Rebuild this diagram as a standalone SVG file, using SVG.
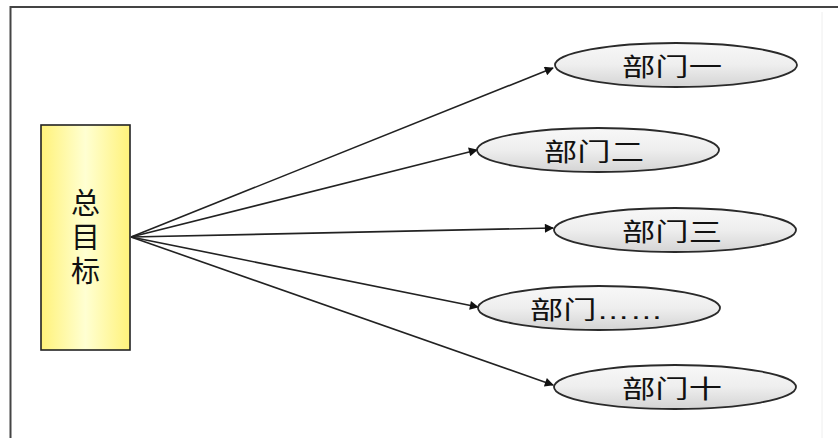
<svg xmlns="http://www.w3.org/2000/svg" width="838" height="438" viewBox="0 0 838 438">
<defs>
<linearGradient id="yg" x1="0" y1="0" x2="1" y2="0">
<stop offset="0" stop-color="#fff27a"/>
<stop offset="0.5" stop-color="#ffffd2"/>
<stop offset="1" stop-color="#fff27a"/>
</linearGradient>
<linearGradient id="eg" x1="0" y1="0" x2="0" y2="1">
<stop offset="0" stop-color="#f8f8f8"/>
<stop offset="0.5" stop-color="#eeeeee"/>
<stop offset="1" stop-color="#d4d4d4"/>
</linearGradient>
<marker id="ah" viewBox="0 0 10 10" refX="9" refY="5" markerWidth="13" markerHeight="9" markerUnits="userSpaceOnUse" orient="auto">
<path d="M0,0 L10,5 L0,10 z" fill="#111"/>
</marker>
<style>
.t{font-family:"Liberation Sans","Noto Sans CJK SC",sans-serif;fill:#111;}
.e{fill:url(#eg);stroke:#2a2a2a;stroke-width:1.8;}
.c{stroke:#222;stroke-width:1.6;fill:none;marker-end:url(#ah);}
</style>
</defs>
<rect width="838" height="438" fill="#fff"/>
<g id="frame">
<path d="M10.5,438 V7 H838" fill="none" stroke="#444" stroke-width="2"/>
<line x1="822" y1="12" x2="822" y2="438" stroke="#eee" stroke-width="1"/>
</g>
<g id="connectors">
<line class="c" x1="131" y1="237" x2="553" y2="68"/>
<line class="c" x1="131" y1="237" x2="477" y2="150"/>
<line class="c" x1="131" y1="237" x2="553" y2="228"/>
<line class="c" x1="131" y1="237" x2="478" y2="307"/>
<line class="c" x1="131" y1="237" x2="553" y2="385"/>
</g>
<g id="goal">
<rect x="41" y="125" width="89" height="225" fill="url(#yg)" stroke="#222" stroke-width="1.6"/>
<text class="t" x="85.5" y="214" font-size="29" text-anchor="middle">总</text>
<text class="t" x="85.5" y="248" font-size="29" text-anchor="middle">目</text>
<text class="t" x="85.5" y="282" font-size="29" text-anchor="middle">标</text>
</g>
<g id="dept1">
<ellipse class="e" cx="676" cy="65" rx="121" ry="22"/>
<text class="t" x="622" y="76" font-size="25" textLength="100" lengthAdjust="spacingAndGlyphs">部门一</text>
</g>
<g id="dept2">
<ellipse class="e" cx="598" cy="150" rx="121" ry="22"/>
<text class="t" x="544" y="161" font-size="25" textLength="100" lengthAdjust="spacingAndGlyphs">部门二</text>
</g>
<g id="dept3">
<ellipse class="e" cx="675" cy="230" rx="121" ry="22"/>
<text class="t" x="622" y="241" font-size="25" textLength="100" lengthAdjust="spacingAndGlyphs">部门三</text>
</g>
<g id="dept4">
<ellipse class="e" cx="599" cy="308" rx="121" ry="22"/>
<text class="t" x="530" y="319" font-size="25" textLength="133" lengthAdjust="spacingAndGlyphs">部门……</text>
</g>
<g id="dept10">
<ellipse class="e" cx="675" cy="387" rx="121" ry="22"/>
<text class="t" x="622" y="398" font-size="25" textLength="100" lengthAdjust="spacingAndGlyphs">部门十</text>
</g>
</svg>
